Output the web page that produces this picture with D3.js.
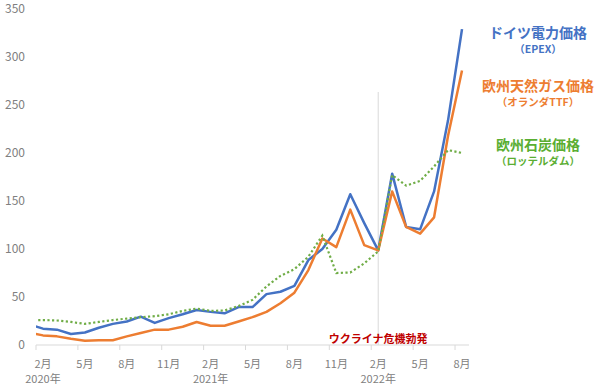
<!DOCTYPE html>
<html>
    <head>
        <meta charset="UTF-8"/>
        <style>
            body { margin: 0; background: #fff; }
            text { font-family: "Noto Sans CJK JP", "Noto Sans", sans-serif; }
        </style>
    </head>
    <body>
        <svg width="600" height="388"></svg>
        <script src="https://d3js.org/d3.v7.min.js" type="text/javascript"></script>
        <script>
            // months Jan 2020 .. Aug 2022 (Jan only shows as a clipped stub)
            let months = d3.range(32).map(function(i) {
                return { year: 2020 + Math.floor(i / 12), month: (i % 12) + 1 };
            });
            let power = [21.5, 17, 16, 11.5, 13, 18, 22, 24.5, 29.5, 23, 28, 32, 36.5,
                         34.5, 33, 39.5, 39.5, 53, 55.5, 61.5, 88.5, 100, 120, 157, 127,
                         98.5, 178.5, 123, 120.5, 160, 234, 329];
            let gas = [13, 10, 9, 6.5, 4.5, 5, 5, 9, 12.5, 16, 16, 19, 24,
                       20, 20, 24.5, 29, 34.5, 43.5, 54.5, 78, 111, 102, 141, 104,
                       98.5, 160, 123, 116, 133, 218, 286];
            let coal = [26, 26, 25.5, 24, 22, 24, 26, 27.5, 29, 30, 32, 35.5, 38,
                        35.5, 36, 40.5, 47, 61, 72, 79, 92, 114, 75, 75.5, 85,
                        97.5, 177, 166, 171, 186, 203, 200];
            let yTicks = [0, 50, 100, 150, 200, 250, 300, 350];
            let labelIdx = [1, 4, 7, 10, 13, 16, 19, 22, 25, 28, 31];
            let yearIdx = [1, 13, 25];
            let eventIdx = 25;

            let svg = d3.select("svg");
            let x = d3.scaleLinear().domain([0.5, 31.5]).range([36, 469]);
            let y = d3.scaleLinear().domain([0, 350]).range([345, 9]);

            svg.append("defs").append("clipPath").attr("id", "plot")
                .append("rect").attr("x", 36).attr("y", 0).attr("width", 434).attr("height", 388);

            // y axis labels
            let ya = svg.append("g").attr("transform", "translate(28,0)")
                .call(d3.axisLeft(y).tickValues(yTicks).tickSize(0).tickPadding(3));
            ya.select(".domain").remove();
            ya.selectAll("text").attr("fill", "#808080").style("font-size", "12px")
                .style("font-family", '"Noto Sans CJK JP", sans-serif');

            // baseline + tick marks
            svg.append("line").attr("x1", 36).attr("x2", 469)
                .attr("y1", y(0)).attr("y2", y(0))
                .attr("stroke", "#d9d9d9").attr("stroke-width", 1);
            svg.selectAll(".tk").data(labelIdx).enter().append("line")
                .attr("class", "tk")
                .attr("x1", function(d) { return x(d - 0.5); })
                .attr("x2", function(d) { return x(d - 0.5); })
                .attr("y1", y(0)).attr("y2", y(0) + 5)
                .attr("stroke", "#d9d9d9");

            // ukraine event line
            svg.append("line").attr("x1", x(eventIdx)).attr("x2", x(eventIdx))
                .attr("y1", 92).attr("y2", y(0))
                .attr("stroke", "#d9d9d9").attr("stroke-width", 1);

            // x labels
            svg.selectAll(".ml").data(labelIdx).enter().append("text")
                .attr("class", "ml")
                .attr("x", function(d) { return x(d); })
                .attr("y", 368)
                .attr("text-anchor", "middle")
                .attr("fill", "#808080").style("font-size", "11px")
                .text(function(d) { return months[d].month + "月"; });
            svg.selectAll(".yl").data(yearIdx).enter().append("text")
                .attr("class", "yl")
                .attr("x", function(d) { return x(d); })
                .attr("y", 383)
                .attr("text-anchor", "middle")
                .attr("fill", "#808080").style("font-size", "11px")
                .text(function(d) { return months[d].year + "年"; });

            let line = d3.line()
                .x(function(d, i) { return x(i); })
                .y(function(d) { return y(d); });
            let g = svg.append("g").attr("clip-path", "url(#plot)");
            g.append("path").datum(power).attr("d", line)
                .attr("fill", "none").attr("stroke", "#4472c4").attr("stroke-width", 2.5)
                .attr("stroke-linejoin", "round");
            g.append("path").datum(gas).attr("d", line)
                .attr("fill", "none").attr("stroke", "#ed7d31").attr("stroke-width", 2.5)
                .attr("stroke-linejoin", "round");
            g.append("path").datum(coal).attr("d", line)
                .attr("fill", "none").attr("stroke", "#70ad47").attr("stroke-width", 2.2)
                .attr("stroke-dasharray", "2.2,2.4");

            svg.append("text").attr("x", x(eventIdx)).attr("y", 343)
                .attr("text-anchor", "middle").attr("fill", "#c00000")
                .style("font-size", "11px").style("font-weight", "bold")
                .text("ウクライナ危機勃発");

            // legend labels
            let legend = [
                { t: "ドイツ電力価格", s: "（EPEX）", c: "#4472c4", y: 38 },
                { t: "欧州天然ガス価格", s: "（オランダTTF）", c: "#ed7d31", y: 91 },
                { t: "欧州石炭価格", s: "（ロッテルダム）", c: "#5aae32", y: 150 }
            ];
            legend.forEach(function(l) {
                svg.append("text").attr("x", 538).attr("y", l.y)
                    .attr("text-anchor", "middle").attr("fill", l.c)
                    .style("font-size", "14px").style("font-weight", "bold").text(l.t);
                svg.append("text").attr("x", 538).attr("y", l.y + 15)
                    .attr("text-anchor", "middle").attr("fill", l.c)
                    .style("font-size", "10.5px").style("font-weight", "bold").text(l.s);
            });
        </script>
    </body>
</html>
